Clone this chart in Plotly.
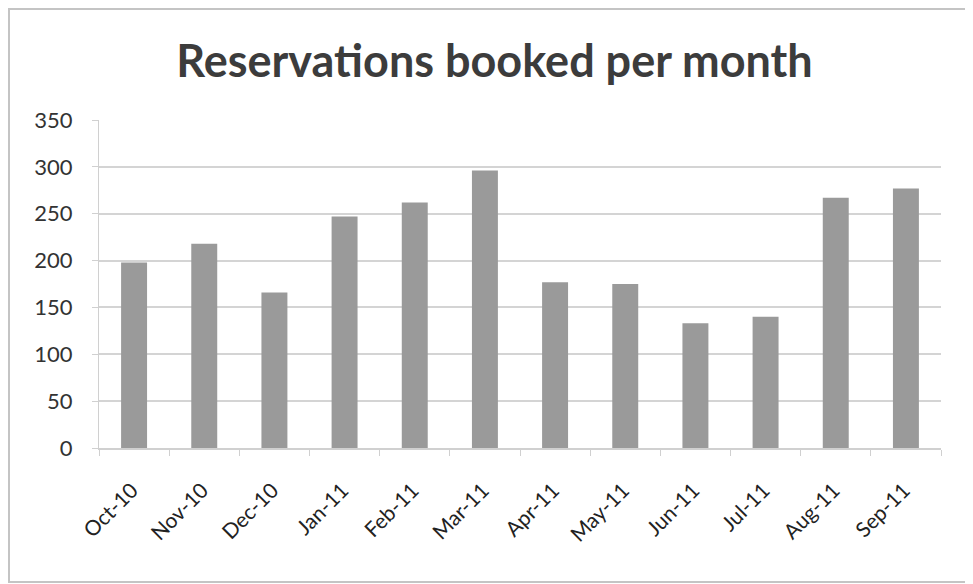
import plotly.graph_objects as go

months = ["Oct-10", "Nov-10", "Dec-10", "Jan-11", "Feb-11", "Mar-11",
          "Apr-11", "May-11", "Jun-11", "Jul-11", "Aug-11", "Sep-11"]
reservations = [198, 218, 166, 247, 262, 296, 177, 175, 133, 140, 267, 277]
y_ticks = [0, 50, 100, 150, 200, 250, 300, 350]

fig = go.Figure(go.Bar(
    x=months, y=reservations,
    marker=dict(color="#9a9a9a", line=dict(width=0)),
))

# page body has an 8px default margin, compensate so the chart lands where the reference has it
fig.update_layout(
    width=973, height=584,
    paper_bgcolor="white", plot_bgcolor="white",
    margin=dict(l=91, r=40, t=112, b=144),
    bargap=0.63,
    showlegend=False,
    title=dict(text="<b>Reservations booked per month</b>", x=0.5, xanchor="center",
               y=0.908, yanchor="middle",
               font=dict(family="Lato, Open Sans, sans-serif", size=45, color="#3c3c3c")),
    font=dict(family="Lato, Open Sans, sans-serif", color="#333333"),
)
fig.update_yaxes(range=[0, 350], tickvals=y_ticks, showgrid=True, gridcolor="#d4d4d4",
                 gridwidth=1.5, zeroline=False, showline=True, linecolor="#d0d0d0",
                 ticks="outside", ticklen=6, tickcolor="#d0d0d0",
                 tickfont=dict(size=22, color="#333333"), ticklabelstandoff=15)
fig.update_xaxes(tickangle=-45, showline=True, linecolor="#d0d0d0", linewidth=1.5,
                 ticks="outside", ticklen=6, tickcolor="#d0d0d0", tickson="boundaries",
                 tickfont=dict(size=21, color="#222222"), ticklabelstandoff=20,
                 ticklabelshift=-2)

fig.add_shape(type="rect", xref="paper", yref="paper",
              x0=-90/842, x1=1 + 29/842, y0=-134/328, y1=1 + 111/328,
              line=dict(color="#c4c4c4", width=2), fillcolor="rgba(0,0,0,0)")

fig.write_html("out.html")
